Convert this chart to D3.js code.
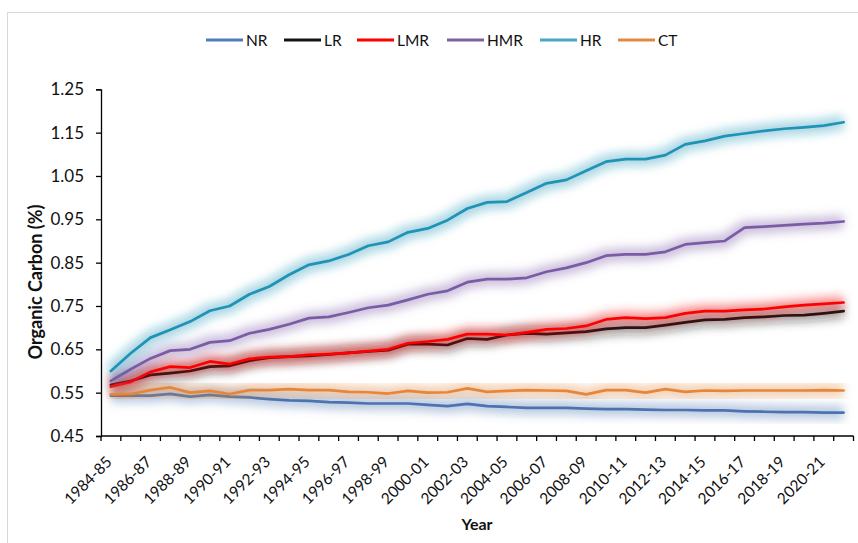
<!DOCTYPE html>
<html><head><meta charset="utf-8">
<script src="https://cdn.jsdelivr.net/npm/d3@7"></script>
<style>
body{margin:0;background:#fff;}
svg{display:block;font-family:Lato,"Open Sans",sans-serif;}
</style>
</head><body>
<svg id="chart" width="858" height="543"></svg>
<script>
const years = ["1984-85","1985-86","1986-87","1987-88","1988-89","1989-90","1990-91","1991-92","1992-93","1993-94",
"1994-95","1995-96","1996-97","1997-98","1998-99","1999-00","2000-01","2001-02","2002-03","2003-04",
"2004-05","2005-06","2006-07","2007-08","2008-09","2009-10","2010-11","2011-12","2012-13","2013-14",
"2014-15","2015-16","2016-17","2017-18","2018-19","2019-20","2020-21","2021-22"];

const NR  = [0.543,0.543,0.543,0.547,0.541,0.545,0.541,0.539,0.535,0.532,0.531,0.528,0.527,0.525,0.525,0.525,0.522,0.519,0.524,0.519,
             0.517,0.515,0.515,0.515,0.513,0.512,0.512,0.511,0.510,0.510,0.509,0.509,0.507,0.506,0.505,0.505,0.504,0.504];
const LR  = [0.568,0.577,0.591,0.595,0.600,0.610,0.612,0.624,0.631,0.633,0.635,0.638,0.642,0.645,0.648,0.662,0.662,0.660,0.675,0.673,
             0.683,0.687,0.685,0.688,0.691,0.697,0.700,0.700,0.706,0.712,0.718,0.719,0.723,0.725,0.728,0.729,0.733,0.738];
const LMR = [0.564,0.575,0.598,0.610,0.608,0.622,0.616,0.628,0.632,0.633,0.637,0.639,0.642,0.646,0.650,0.664,0.668,0.673,0.685,0.685,
             0.683,0.689,0.696,0.698,0.704,0.719,0.723,0.721,0.723,0.733,0.738,0.738,0.741,0.743,0.748,0.752,0.755,0.758];
const HMR = [0.577,0.604,0.629,0.647,0.650,0.666,0.670,0.687,0.696,0.708,0.722,0.725,0.735,0.746,0.752,0.764,0.777,0.785,0.805,0.812,
             0.812,0.815,0.829,0.838,0.850,0.866,0.869,0.869,0.875,0.892,0.896,0.900,0.931,0.933,0.936,0.939,0.941,0.945];
const HR  = [0.600,0.641,0.677,0.695,0.714,0.739,0.750,0.777,0.795,0.822,0.845,0.854,0.869,0.889,0.898,0.920,0.929,0.948,0.975,0.989,
             0.991,1.012,1.033,1.041,1.062,1.083,1.089,1.089,1.098,1.123,1.131,1.142,1.148,1.154,1.159,1.162,1.166,1.174];
const CT  = [0.546,0.547,0.556,0.562,0.550,0.554,0.547,0.556,0.556,0.558,0.556,0.556,0.552,0.551,0.548,0.554,0.550,0.551,0.560,0.552,
             0.554,0.556,0.555,0.554,0.546,0.556,0.556,0.550,0.558,0.552,0.555,0.554,0.555,0.555,0.555,0.555,0.556,0.555];

const seriesNames = ["NR","LR","LMR","HMR","HR","CT"];
const yTicks = [0.45,0.55,0.65,0.75,0.85,0.95,1.05,1.15,1.25];

const seriesData = [NR, LR, LMR, HMR, HR, CT];
const lineColors   = ["#4a73b0","#141414","#ff0000","#7a5ca6","#1f93b5","#e4873c"];
const legendColors = ["#4f7cba","#141414","#ff0000","#7d62a2","#4ba6c2","#e08a45"];

const svg = d3.select("#chart");
const pLeft = 101, pRight = 853.5, pTop = 89.3, pBottom = 436;

svg.append("rect").attr("x",7.5).attr("y",12.5).attr("width",900).attr("height",600)
  .attr("fill","#fff").attr("stroke","#d9d9d9").attr("stroke-width",1);

const defs = svg.append("defs");
defs.append("filter").attr("id","glow").attr("x","-10%").attr("y","-60%").attr("width","120%").attr("height","220%")
  .append("feGaussianBlur").attr("stdDeviation",5);

const x = d3.scaleBand().domain(years).range([pLeft, pRight]).padding(0);
const y = d3.scaleLinear().domain([0.45,1.25]).range([pBottom, pTop]);
const cx = d => x(d) + x.bandwidth()/2;

// y axis
const yAxis = svg.append("g").attr("transform",`translate(${pLeft},0)`)
  .call(d3.axisLeft(y).tickValues(yTicks).tickFormat(d3.format(".2f")).tickSize(5).tickPadding(12));
yAxis.select(".domain").attr("stroke","#000").attr("stroke-width",1.3);
yAxis.selectAll(".tick line").attr("stroke","#000").attr("stroke-width",1.3);
yAxis.selectAll(".tick text").attr("font-size",17).attr("fill","#111").attr("font-family","Lato");

// x axis
const xg = svg.append("g").attr("transform",`translate(0,${pBottom})`);
xg.append("line").attr("x1",pLeft).attr("x2",pRight).attr("stroke","#000").attr("stroke-width",1.3);
const bounds = years.map(d => x(d)).concat([pRight]);
xg.selectAll("line.tk").data(bounds).join("line").attr("class","tk")
  .attr("x1",d=>d).attr("x2",d=>d).attr("y1",0).attr("y2",5).attr("stroke","#000").attr("stroke-width",1.3);
xg.selectAll("text").data(years.filter((d,i)=>i%2===0)).join("text")
  .attr("transform",d=>`translate(${cx(d)+2},27) rotate(-45)`)
  .attr("text-anchor","end").attr("font-size",15.5).attr("fill","#111").text(d=>d);

// lines
const line = d3.line().x((v,i)=>cx(years[i])).y(v=>y(v));
seriesData.forEach((vals,k)=>{
  const g = svg.append("g");
  g.append("path").attr("d",line(vals)).attr("fill","none").attr("stroke",lineColors[k])
    .attr("stroke-width",14).attr("stroke-opacity",0.38).attr("stroke-linejoin","round").attr("filter","url(#glow)");
  g.append("path").attr("d",line(vals)).attr("fill","none").attr("stroke",lineColors[k])
    .attr("stroke-width",2.7).attr("stroke-linejoin","round").attr("stroke-linecap","round");
});

// legend
const legendX = [206,284,357,447,540,618];
const lg = svg.append("g");
seriesNames.forEach((n,k)=>{
  lg.append("line").attr("x1",legendX[k]).attr("x2",legendX[k]+37).attr("y1",40).attr("y2",40)
    .attr("stroke",legendColors[k]).attr("stroke-width",3);
  lg.append("text").attr("x",legendX[k]+40).attr("y",40).attr("dy","0.36em")
    .attr("font-size",15.5).attr("fill","#111").text(n);
});

// axis titles
svg.append("text").attr("transform",`translate(42,282) rotate(-90)`).attr("text-anchor","middle")
  .attr("font-size",18).attr("font-weight","bold").attr("fill","#111").text("Organic Carbon (%)");
svg.append("text").attr("x",477).attr("y",530).attr("text-anchor","middle")
  .attr("font-size",16).attr("font-weight","bold").attr("fill","#111").text("Year");
</script>
</body></html>
